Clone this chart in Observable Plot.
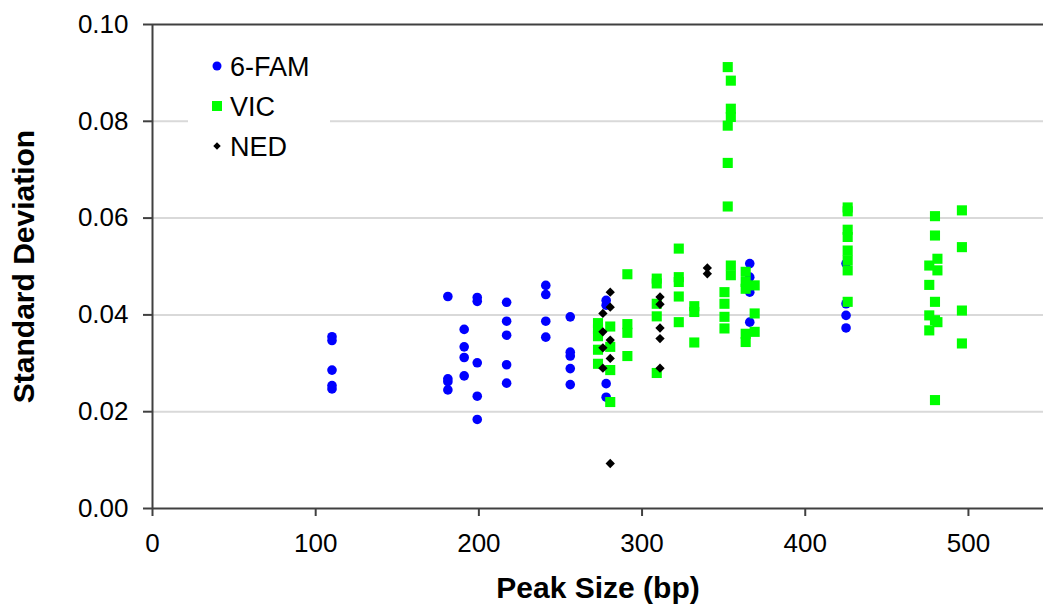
<!DOCTYPE html>
<html>
<head>
<meta charset="utf-8">
<script src="https://cdn.jsdelivr.net/npm/d3@7"></script>
<script src="https://cdn.jsdelivr.net/npm/@observablehq/plot@0.6"></script>
<style>
  html, body { margin: 0; padding: 0; background: #fff; }
  #chart { width: 1044px; height: 616px; overflow: hidden; }
</style>
</head>
<body>
<div id="chart"></div>
<script>
// ---- data ----
const seriesNames = ["6-FAM", "VIC", "NED"];
const seriesColors = ["#0000ff", "#00ff00", "#000000"];

const famSize = [110,110,110,110,110, 181,181,181,181, 191,191,191,191,
  199,199,199,199,199, 217,217,217,217,217, 241,241,241,241,
  256,256,256,256,256, 278,278,278,278, 366,366,366,366, 425,425,425,425];
const famSD = [0.0355,0.0347,0.0286,0.0254,0.0247, 0.0438,0.0268,0.0262,0.0245,
  0.0370,0.0334,0.0312,0.0274, 0.0436,0.0428,0.0301,0.0232,0.0184,
  0.0426,0.0387,0.0358,0.0297,0.0259, 0.0461,0.0442,0.0387,0.0354,
  0.0396,0.0323,0.0315,0.0289,0.0256, 0.0430,0.0420,0.0258,0.0230,
  0.0506,0.0478,0.0447,0.0385, 0.0506,0.0423,0.0399,0.0373];

const vicSize = [273,273,273,273,273, 280.5,280.5,280.5,280.5, 291,291,291,291,
  309,309,309,309,309, 322.5,322.5,322.5,322.5,322.5, 332,332,332,
  350.5,350.5,350.5,350.5, 352.5,352.5,352.5,352.5, 354.4,354.4,354.4,354.4,354.4,
  363.5,363.5,363.5,363.5,363.5, 369,369,369,
  426,426,426,426,426,426,426,426, 476,476,476,476,
  479.5,479.5,479.5,479.5,479.5, 481,481,481, 496,496,496,496];
const vicSD = [0.0383,0.0370,0.0356,0.0328,0.0299, 0.0376,0.0334,0.0286,0.0220,
  0.0484,0.0381,0.0363,0.0315, 0.0475,0.0465,0.0423,0.0397,0.0280,
  0.0537,0.0478,0.0468,0.0438,0.0385, 0.0418,0.0406,0.0343,
  0.0447,0.0423,0.0396,0.0372, 0.0912,0.0791,0.0714,0.0624,
  0.0884,0.0826,0.0809,0.0502,0.0482,
  0.0489,0.0468,0.0454,0.0361,0.0344, 0.0461,0.0403,0.0365,
  0.0622,0.0614,0.0576,0.0561,0.0533,0.0513,0.0492,0.0427,
  0.0502,0.0462,0.0399,0.0368, 0.0604,0.0564,0.0427,0.0389,0.0224,
  0.0516,0.0492,0.0385, 0.0616,0.0540,0.0409,0.0341];

const nedSize = [276,276,276,276, 280.5,280.5,280.5,280.5,280.5, 311,311,311,311,311, 340,340];
const nedSD = [0.0403,0.0365,0.0332,0.0290, 0.0447,0.0416,0.0348,0.0310,0.0093,
  0.0437,0.0422,0.0373,0.0351,0.0290, 0.0497,0.0485];

const xTicks = [0, 100, 200, 300, 400, 500];
const yTicks = [0, 0.02, 0.04, 0.06, 0.08, 0.10];
const xTitle = "Peak Size (bp)";
const yTitle = "Standard Deviation";

// ---- tables ----
const toRows = (sizes, sds, dye) => sizes.map((s, i) => ({size: s, sd: sds[i], dye}));
const fam = toRows(famSize, famSD, seriesNames[0]);
const vic = toRows(vicSize, vicSD, seriesNames[1]);
const ned = toRows(nedSize, nedSD, seriesNames[2]);

const axisColor = "#404040";
const font = "'Liberation Sans', Arial, Helvetica, sans-serif";

const chart = Plot.plot({
  width: 1044,
  height: 616,
  marginLeft: 152,
  marginRight: 1,
  marginTop: 24,
  marginBottom: 108,
  style: {fontFamily: font, background: "#fff", color: "#000", overflow: "visible"},
  x: {domain: [0, 546]},
  y: {domain: [0, 0.1]},
  marks: [
    Plot.ruleY(yTicks.slice(1, 5), {stroke: "#d9d9d9", strokeWidth: 2}),
    Plot.ruleY([yTicks[5]], {stroke: axisColor, strokeWidth: 2}),
    Plot.axisY({ticks: yTicks, tickFormat: d3.format(".2f"), tickSize: 9, tickPadding: 15,
      fontSize: 26, stroke: axisColor, strokeWidth: 2, fill: "#000", label: null}),
    Plot.axisX({ticks: xTicks, tickFormat: d3.format("d"), tickSize: 8, tickPadding: 17,
      fontSize: 26, stroke: axisColor, strokeWidth: 2, fill: "#000", label: null}),
    Plot.ruleX([0], {stroke: axisColor, strokeWidth: 2}),
    Plot.ruleY([0], {stroke: axisColor, strokeWidth: 2}),
    Plot.dot(fam, {x: "size", y: "sd", symbol: "circle", r: 4.8, fill: seriesColors[0], stroke: "none"}),
    Plot.dot(vic, {x: "size", y: "sd", symbol: "square", r: 5.7, fill: seriesColors[1], stroke: "none"}),
    Plot.dot(ned, {x: "size", y: "sd", symbol: "diamond2", r: 4.2, fill: seriesColors[2], stroke: "none"}),
    Plot.text([xTitle], {text: d => d, frameAnchor: "bottom", dy: 89, fontSize: 30,
      fontWeight: "bold", fill: "#000", textAnchor: "middle"}),
    Plot.text([yTitle], {text: d => d, frameAnchor: "left", dx: -128, rotate: -90, fontSize: 30,
      fontWeight: "bold", fill: "#000", textAnchor: "middle"})
  ]
});

document.getElementById("chart").appendChild(chart);

// ---- legend (inside plot area, top-left) ----
const svg = d3.select(chart);
const lg = svg.append("g").attr("class", "legend");
lg.append("rect").attr("x", 188).attr("y", 38).attr("width", 142).attr("height", 134).attr("fill", "#fff");
const symbols = [d3.symbolCircle, d3.symbolSquare, d3.symbolDiamond2];
const sizes = [Math.PI * 4.5 * 4.5, 100, Math.PI * 3.4 * 3.4];
seriesNames.forEach((name, i) => {
  const cy = 66 + i * 40;
  lg.append("path")
    .attr("transform", `translate(217,${cy})`)
    .attr("d", d3.symbol(symbols[i], sizes[i])())
    .attr("fill", seriesColors[i]);
  lg.append("text")
    .attr("x", 230).attr("y", cy).attr("dy", "0.36em")
    .attr("text-anchor", "start")
    .attr("font-family", font).attr("font-size", 27).attr("fill", "#000")
    .text(name);
});
</script>
</body>
</html>
